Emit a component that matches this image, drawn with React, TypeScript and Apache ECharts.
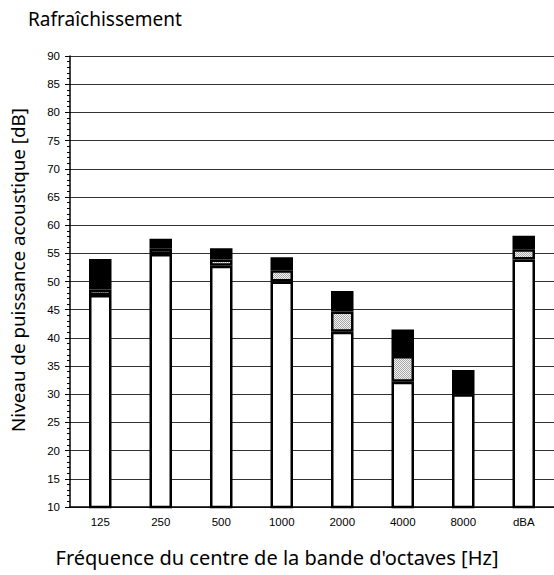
import React, { useEffect, useRef } from "react";
import * as echarts from "echarts";

const categories = ["125", "250", "500", "1000", "2000", "4000", "8000", "dBA"];
// top level of each segment (dB)
const whiteTop = [47.6, 54.9, 52.8, 50.0, 41.1, 32.2, 30.0, 53.9];
const hatchTop = [48.6, 55.8, 53.9, 52.0, 44.7, 36.8, 30.0, 55.7];
const blackTop = [54.0, 57.6, 55.9, 54.3, 48.3, 41.5, 34.3, 58.1];

const title = "Rafraîchissement";
const xName = "Fréquence du centre de la bande d'octaves [Hz]";
const yName = "Niveau de puissance acoustique [dB]";

function makePattern(): any {
  const c = document.createElement("canvas");
  c.width = 4;
  c.height = 4;
  const ctx = c.getContext("2d")!;
  ctx.fillStyle = "#f2f2f2";
  ctx.fillRect(0, 0, 4, 4);
  ctx.fillStyle = "#a8a8a8";
  for (let y = 0; y < 4; y++) {
    for (let x = 0; x < 4; x++) {
      if ((x + y) % 2 === 0) ctx.fillRect(x, y, 1, 1);
    }
  }
  return { image: c.toDataURL(), repeat: "repeat" };
}

export default function App() {
  const ref = useRef<HTMLDivElement>(null);
  useEffect(() => {
    const chart = echarts.init(ref.current!, undefined, { renderer: "svg" });
    const hatchVals = hatchTop.map((v, i) => {
      const d = +(v - whiteTop[i]).toFixed(2);
      return d > 0 ? d : null;
    });
    const blackVals = blackTop.map((v, i) => +(v - hatchTop[i]).toFixed(2));
    const barStyle = { borderColor: "#000", borderWidth: 2.5 };
    chart.setOption({
      animation: false,
      title: {
        text: title,
        left: 23,
        top: 4,
        textStyle: { fontFamily: "Noto Sans", fontSize: 19, fontWeight: "normal", color: "#000" },
      },
      graphic: [
        {
          type: "text",
          x: 277,
          y: 557,
          style: {
            text: xName,
            fontFamily: "Noto Sans",
            fontSize: 20,
            fill: "#000",
            align: "center",
            verticalAlign: "middle",
          },
        },
        {
          type: "text",
          x: 18,
          y: 270,
          rotation: Math.PI / 2,
          style: {
            text: yName,
            fontFamily: "Noto Sans",
            fontSize: 18.8,
            fill: "#000",
            align: "center",
            verticalAlign: "middle",
          },
        },
      ],
      grid: { left: 70, right: 0, top: 56, bottom: 68, containLabel: false },
      xAxis: {
        type: "category",
        data: categories,
        axisLine: { lineStyle: { color: "#000", width: 1.5 } },
        axisTick: { show: false },
        axisLabel: { fontFamily: "Liberation Sans", fontSize: 11.5, color: "#000", margin: 9 },
      },
      yAxis: {
        type: "value",
        min: 10,
        max: 90,
        interval: 5,
        axisLine: { show: true, lineStyle: { color: "#000", width: 1.5 } },
        axisTick: { show: true, length: 5, lineStyle: { color: "#000" } },
        minorTick: { show: true, splitNumber: 5, length: 3, lineStyle: { color: "#000" } },
        splitLine: { show: true, lineStyle: { color: "#333", width: 1.2 } },
        axisLabel: { fontFamily: "Liberation Sans", fontSize: 11.5, color: "#000", margin: 10 },
      },
      series: [
        {
          type: "bar",
          stack: "a",
          barWidth: 22.5,
          data: whiteTop,
          itemStyle: { color: "#fff", ...barStyle },
        },
        {
          type: "bar",
          stack: "a",
          barWidth: 22.5,
          data: hatchVals,
          itemStyle: { color: makePattern(), ...barStyle },
        },
        {
          type: "bar",
          stack: "a",
          barWidth: 22.5,
          data: blackVals,
          itemStyle: { color: "#000", ...barStyle },
        },
      ],
    });
    return () => chart.dispose();
  }, []);
  return <div ref={ref} style={{ width: 554, height: 575, position: "absolute", left: 0, top: 0 }} />;
}
